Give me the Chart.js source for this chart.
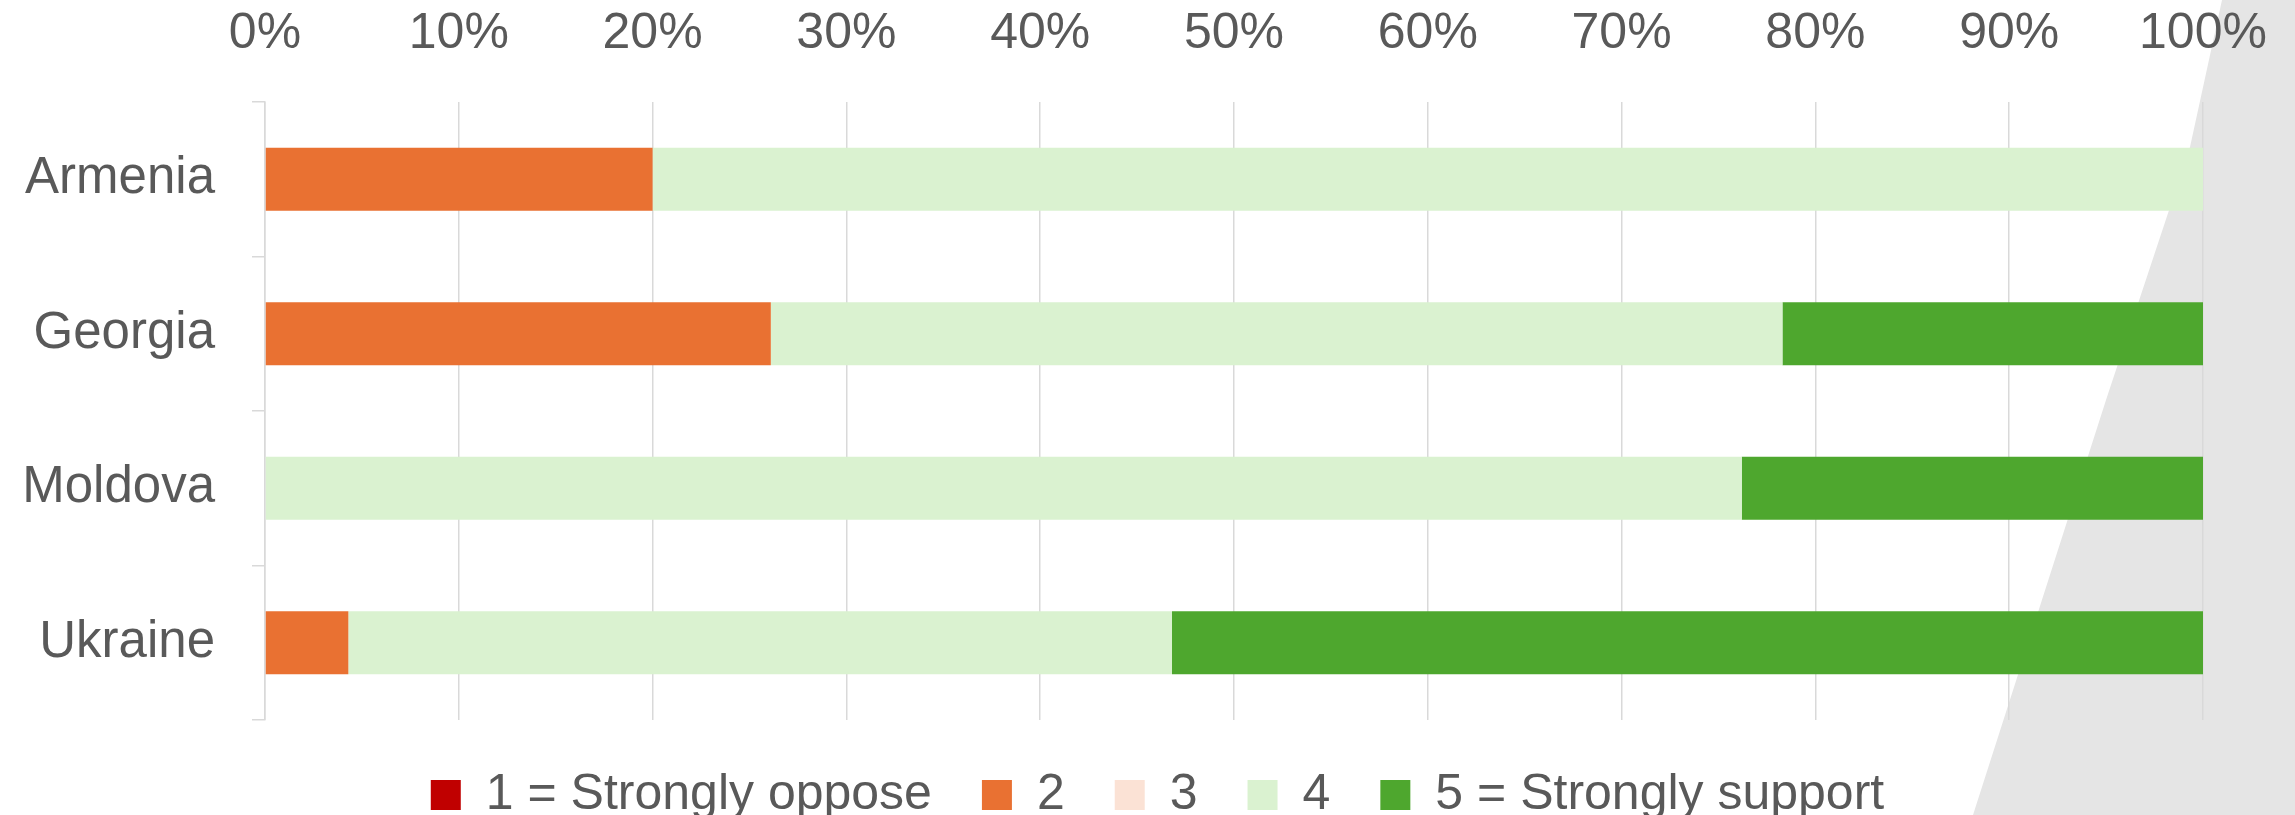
<!DOCTYPE html>
<html>
<head>
<meta charset="utf-8">
<script src="https://cdn.jsdelivr.net/npm/chart.js@4"></script>
<style>
  html, body { margin: 0; padding: 0; background: #ffffff; }
  #wrap { position: relative; width: 2295px; height: 815px; overflow: hidden; }
  /* forma cinza decorativa do slide, atrás do gráfico */
  #shape {
    position: absolute; left: 0; top: 0; width: 2295px; height: 815px;
    background: #e5e5e5;
    clip-path: polygon(2222px 0, 2295px 0, 2295px 815px, 1973px 815px, 2106px 400px, 2190px 147px);
  }
  #grafico { position: absolute; left: 0; top: 0; }
</style>
</head>
<body>
<div id="wrap">
  <div id="shape"></div>
  <canvas id="grafico" width="2295" height="815"></canvas>
</div>
<script>
const paises = ["Armenia", "Georgia", "Moldova", "Ukraine"];
const rotulos = ["1 = Strongly oppose", "2", "3", "4", "5 = Strongly support"];
const cores = ["#C00000", "#E97132", "#FBE2D5", "#DAF2D0", "#4EA72E"];

// percentual por país para cada resposta
const resp1 = [0, 0, 0, 0];
const resp2 = [20, 26.1, 0, 4.3];
const resp3 = [0, 0, 0, 0];
const resp4 = [80, 52.2, 76.2, 42.5];
const resp5 = [0, 21.7, 23.8, 53.2];

const ticksX = [0, 10, 20, 30, 40, 50, 60, 70, 80, 90, 100];

const valores = [resp1, resp2, resp3, resp4, resp5];
const fonte = "'Liberation Sans', Arial, sans-serif";
const cinzaTexto = "#595959";
const cinzaGrade = "#D9D9D9";

const datasets = rotulos.map((rotulo, i) => ({
  label: rotulo,
  data: valores[i],
  backgroundColor: cores[i],
  borderWidth: 0,
  barPercentage: 0.408,
  categoryPercentage: 1.0
}));

// desloca a legenda para a direita (centrada como no original)
const legendaDesloc = {
  id: "legendaDesloc",
  afterLayout(chart) {
    chart.legend.left += 56;
    chart.legend.right += 56;
  }
};

const ctx = document.getElementById("grafico").getContext("2d");
new Chart(ctx, {
  type: "bar",
  data: { labels: paises, datasets: datasets },
  plugins: [legendaDesloc],
  options: {
    indexAxis: "y",
    responsive: false,
    animation: false,
    layout: { padding: { left: 0, right: 92, top: 0, bottom: -15 } },
    plugins: {
      tooltip: { enabled: false },
      legend: {
        position: "bottom",
        labels: {
          boxWidth: 30,
          boxHeight: 30,
          padding: 50,
          color: cinzaTexto,
          font: { family: fonte, size: 50 }
        }
      }
    },
    scales: {
      x: {
        position: "top",
        stacked: true,
        min: 0,
        max: 100,
        afterFit: (scale) => { scale.height = 102; },
        afterBuildTicks: (scale) => { scale.ticks = ticksX.map(v => ({ value: v })); },
        ticks: {
          padding: 20,
          color: cinzaTexto,
          font: { family: fonte, size: 50, lineHeight: 1.9 },
          callback: (v) => v + "%"
        },
        grid: { color: cinzaGrade, lineWidth: 1.5, drawTicks: false },
        border: { display: false }
      },
      y: {
        stacked: true,
        afterFit: (scale) => { scale.width = 265; },
        ticks: {
          padding: 37,
          color: cinzaTexto,
          font: { family: fonte, size: 51 }
        },
        grid: {
          offset: true,
          drawOnChartArea: false,
          tickLength: 13,
          color: cinzaGrade,
          lineWidth: 1.5
        },
        border: { color: cinzaGrade, width: 1.5 }
      }
    }
  }
});
</script>
</body>
</html>
